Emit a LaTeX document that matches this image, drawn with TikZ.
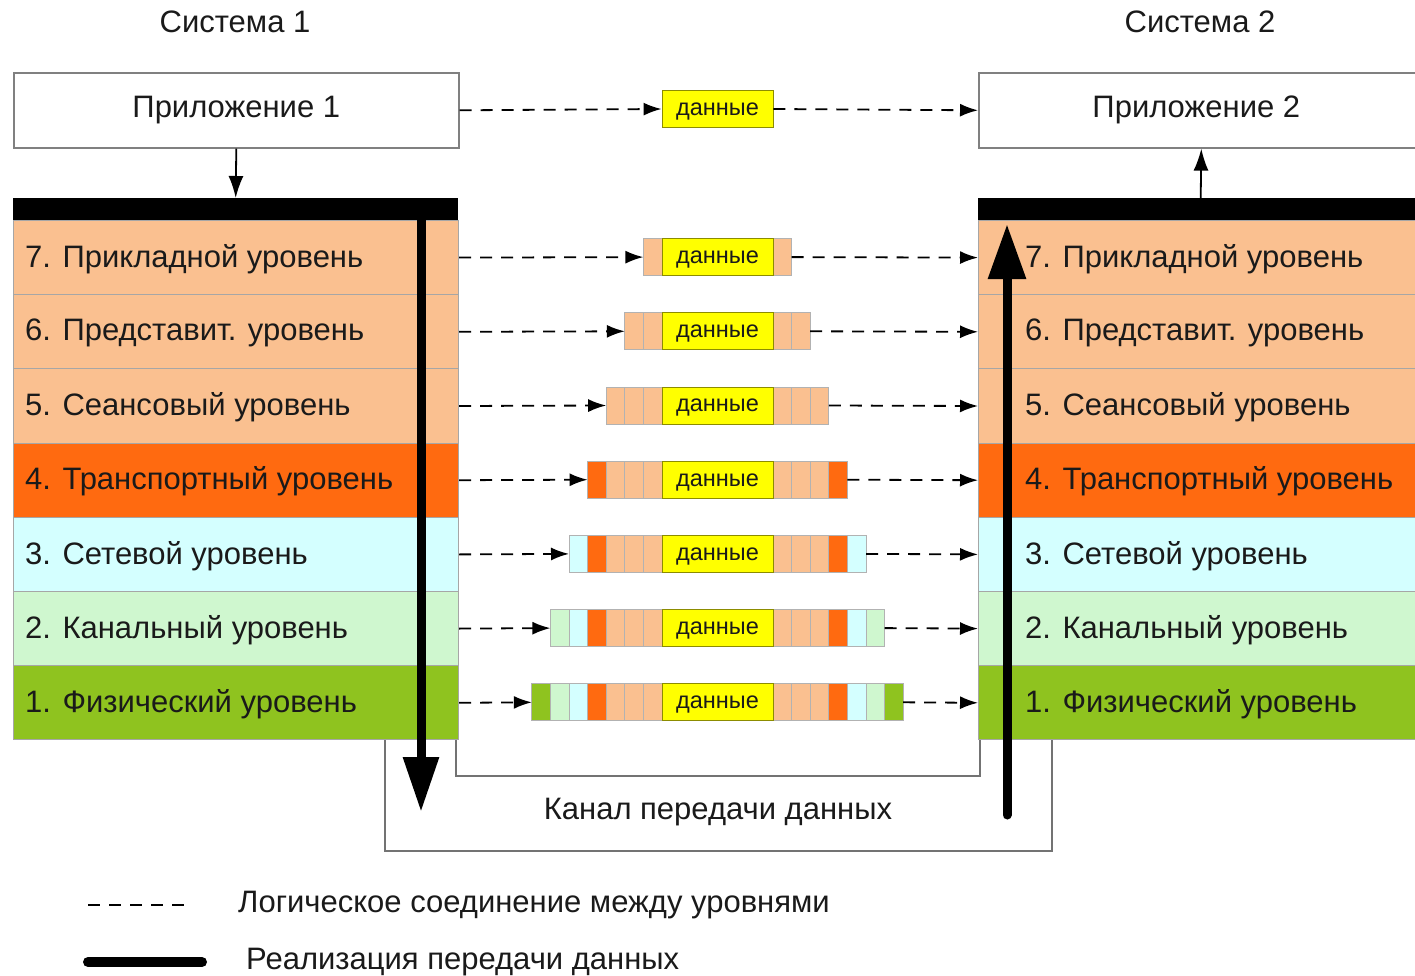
\documentclass[tikz,border=0pt]{standalone}
\usepackage{fontspec}
\setmainfont{Liberation Sans}
\usetikzlibrary{arrows.meta}
\definecolor{peach}{HTML}{FAC090}
\definecolor{orng}{HTML}{FF6A10}
\definecolor{cyanl}{HTML}{D4FFFF}
\definecolor{greenl}{HTML}{CFF7CF}
\definecolor{greend}{HTML}{8FC31F}
\definecolor{datay}{HTML}{FFFF00}
\definecolor{txt}{HTML}{1A1A1A}
\newcommand\bigfont{\fontsize{31}{37}\selectfont}
\newcommand\smallfont{\fontsize{23.5}{27}\selectfont}
\begin{document}
\begin{tikzpicture}[x=1pt,y=-1pt,
  lay/.style={draw=black!35, line width=1pt, minimum width=445pt, minimum height=74.2pt, anchor=north west, inner sep=0pt},
  laytext/.style={anchor=west, font=\bigfont, text=txt, inner sep=0pt},
  appbox/.style={draw=black!50, line width=1.6pt, fill=white, minimum width=445pt, minimum height=75pt, anchor=north west, font=\bigfont, text=txt},
  barbox/.style={fill=black, minimum width=445pt, minimum height=22pt, anchor=north west, inner sep=0pt},
  datan/.style={fill=datay, draw=black!45!datay, line width=0.9pt, minimum width=111pt, minimum height=37pt, inner sep=0pt, font=\smallfont, text=txt, text depth=0pt},
  cell/.style={draw=black!30, line width=0.9pt},
  dconn/.style={dash pattern=on 12pt off 9pt, line width=1.8pt, -{Latex[length=18pt,width=13pt]}},
  thinarr/.style={line width=1.8pt, -{Latex[length=22pt,width=15pt]}},
  impl/.style={line width=9pt},
  chan/.style={draw=black!55, line width=1.8pt},
  title/.style={font=\bigfont, text=txt}
]
\clip (0,0) rectangle (1415,976);
\fill[white] (0,0) rectangle (1415,976);

% titles
\node[title] (S1) at (235,22) {Система 1};
\node[title] (S2) at (1200,22) {Система 2};

% applications
\node[appbox] (A1) at (13,72) {Приложение 1};
\node[appbox] (A2) at (978,72) {\hspace*{-10pt}Приложение 2};
\node[datan] (D8) at (717.5,109) {данные};
\draw[dconn] (A1.east) -- (D8.west);
\draw[dconn] (D8.east) -- (A2.west);

% bars
\node[barbox] (B1) at (13,198) {};
\node[barbox] (B2) at (978,198) {};
\draw[thinarr] (A1.south) -- (B1.north);
\draw[thinarr] (B2.north) -- (A2.south);

% layers
\foreach \n/\y/\c/\t in {7/220/peach/{7. Прикладной уровень},
                         6/294.2/peach/{6. Представит. уровень},
                         5/368.4/peach/{5. Сеансовый уровень},
                         4/442.6/orng/{4. Транспортный уровень},
                         3/516.8/cyanl/{3. Сетевой уровень},
                         2/591/greenl/{2. Канальный уровень},
                         1/665.2/greend/{1. Физический уровень}} {
  \node[lay, fill=\c] (L\n) at (13,\y) {};
  \node[lay, fill=\c] (R\n) at (978,\y) {};
  \node[laytext] (LT\n) at ([xshift=12pt,yshift=-1.5pt]L\n.west) {\t};
  \node[laytext] (RT\n) at ([xshift=47pt,yshift=-1.5pt]R\n.west) {\t};
  \pgfmathtruncatemacro{\k}{8-\n}
  \foreach \i/\cc in {1/peach,2/peach,3/peach,4/orng,5/cyanl,6/greenl,7/greend} {
    \ifnum\i>\k\relax\else
      \draw[cell, fill=\cc] ({662-18.6*\i}, \y+18.6) rectangle ++(18.6,37);
      \draw[cell, fill=\cc] ({773+18.6*(\i-1)}, \y+18.6) rectangle ++(18.6,37);
    \fi
  }
  \node[datan] (D\n) at (717.5, \y+37.1) {данные};
  \coordinate (PL\n) at ({662-18.6*\k}, \y+37.1);
  \coordinate (PR\n) at ({773+18.6*\k}, \y+37.1);
  \draw[dconn] (L\n.east) -- (PL\n);
  \draw[dconn] (PR\n) -- (R\n.west);
}

% channel
\draw[chan] (L1.south -| 385,0) -- (385,851) -- (1052,851) -- (R1.south -| 1052,0);
\draw[chan] (L1.south -| 456,0) -- (456,776) -- (980,776) -- (R1.south -| 980,0);
\node[title] (K) at (718,812) {Канал передачи данных};

% implementation arrows
\coordinate (TLs) at (421,215);
\coordinate (TLe) at (421,812);
\coordinate (TRs) at (1007,815);
\coordinate (TRe) at (1007,224);
\draw[impl, -{Triangle[length=55pt,width=34pt]}] (TLs) -- (TLe);
\draw[impl, line cap=round, -{Triangle[length=55pt,width=36pt]}] (TRs) -- (TRe);

% legend
\coordinate (G1a) at (88,905);
\coordinate (G1b) at (192,905);
\draw[dash pattern=on 12pt off 9pt, line width=1.8pt] (G1a) -- (G1b);
\node[laytext] (G1t) at (238,905) {Логическое соединение между уровнями};
\coordinate (G2a) at (88,962);
\coordinate (G2b) at (202,962);
\draw[line width=10pt, line cap=round] (G2a) -- (G2b);
\node[laytext] (G2t) at (246,962) {Реализация передачи данных};
\end{tikzpicture}
\end{document}
